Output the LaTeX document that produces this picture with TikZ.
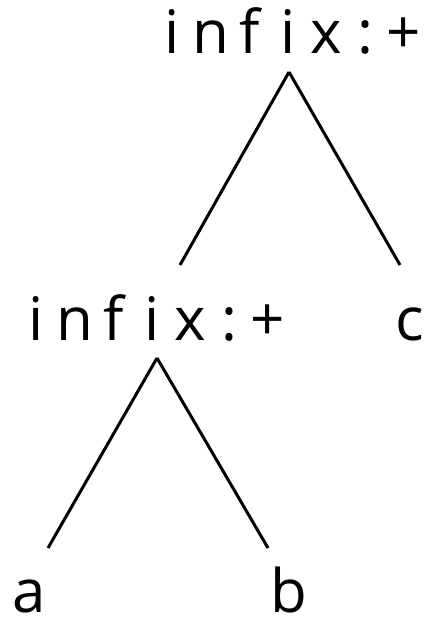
\documentclass[tikz,border=0pt]{standalone}
\usepackage{fontspec}
\setmainfont{Open Sans}
\usetikzlibrary{positioning}

\newcommand{\cellword}[1]{\foreach \ch in {#1}{\makebox[38.5pt]{\ch}}}

\begin{document}
\begin{tikzpicture}[x=1pt,y=-1pt,
  leaf/.style={inner sep=0pt, anchor=base, font=\fontsize{60}{62}\selectfont},
  edge/.style={line width=3pt}]
  \useasboundingbox (0,0) rectangle (436,620);
  % nodes
  \node[leaf] (root) at (288,54) {\cellword{i,n,f,i,x,:,+}};
  \node[leaf] (left) at (152,340) {\cellword{i,n,f,i,x,:,+}};
  \node[leaf] (c) at (410,340) {c};
  \node[leaf] (a) at (29,612) {a};
  \node[leaf] (b) at (289,612) {b};
  % edges
  \draw[edge] ([xshift=1pt,yshift=-18pt]root.base) -- ([xshift=28pt,yshift=75pt]left.base);
  \draw[edge] ([xshift=1pt,yshift=-18pt]root.base) -- ([xshift=-10pt,yshift=75pt]c.base);
  \draw[edge] ([xshift=5pt,yshift=-18pt]left.base) -- ([xshift=19pt,yshift=64pt]a.base);
  \draw[edge] ([xshift=5pt,yshift=-18pt]left.base) -- ([xshift=-21pt,yshift=64pt]b.base);
\end{tikzpicture}
\end{document}
